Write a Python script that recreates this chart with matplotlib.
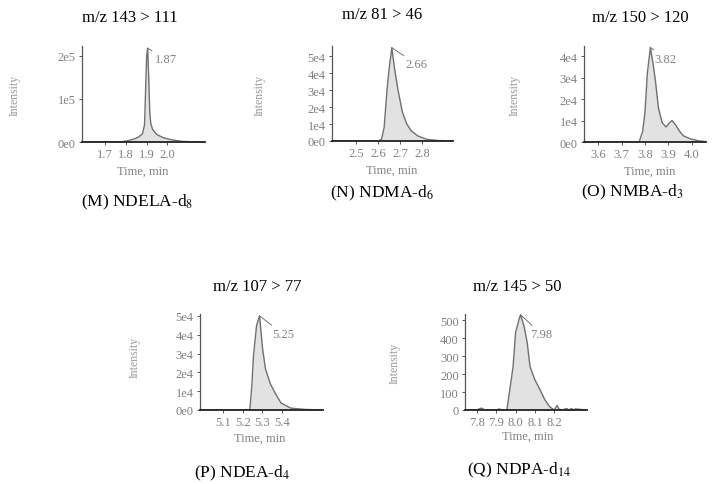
import numpy as np
import matplotlib
matplotlib.use('Agg')
import matplotlib.pyplot as plt

plt.rcParams['font.family'] = ['Liberation Serif', 'DejaVu Serif']
plt.rcParams['mathtext.fontset'] = 'stix'

# M: NDELA-d8
t_m = [1.59, 1.70, 1.78, 1.81, 1.84, 1.86, 1.88, 1.89, 1.895, 1.90, 1.905, 1.91,
       1.915, 1.92, 1.93, 1.95, 1.98, 2.02, 2.07, 2.12, 2.18]
i_m = [0, 0, 500, 3000, 7000, 11000, 19000, 40000, 120000, 200000, 218000, 150000,
       70000, 42000, 28000, 17000, 10000, 5000, 1500, 500, 0]
# N: NDMA-d6
t_n = [2.39, 2.55, 2.60, 2.615, 2.627, 2.64, 2.65, 2.662, 2.675, 2.69, 2.71, 2.73,
       2.75, 2.78, 2.82, 2.87, 2.94]
i_n = [0, 0, 0, 1000, 8000, 30000, 43000, 55000, 42000, 30000, 17000, 10000,
       6000, 3000, 1000, 300, 0]
# O: NMBA-d3
t_o = [3.54, 3.70, 3.775, 3.79, 3.80, 3.81, 3.823, 3.835, 3.845, 3.857, 3.873, 3.89,
       3.905, 3.915, 3.93, 3.95, 3.965, 3.995, 4.03, 4.06]
i_o = [0, 0, 0, 5000, 14000, 32000, 44000, 36000, 28000, 16000, 9000, 7000,
       9000, 10000, 8000, 4600, 2800, 1400, 500, 200]
# P: NDEA-d4
t_p = [4.98, 5.15, 5.235, 5.245, 5.254, 5.27, 5.285, 5.30, 5.315, 5.34, 5.365, 5.395,
       5.445, 5.52, 5.61]
i_p = [0, 0, 0, 12000, 29000, 45000, 50000, 33000, 22000, 14000, 9000, 3700,
       1000, 300, 0]
# Q: NDPA-d14
t_q = [7.738, 7.80, 7.815, 7.826, 7.84, 7.90, 7.915, 7.93, 7.955, 7.97, 7.987, 8.0,
       8.018, 8.026, 8.044, 8.06, 8.075, 8.10, 8.127, 8.152, 8.178, 8.20, 8.215, 8.225,
       8.24, 8.265, 8.275, 8.29, 8.30, 8.31, 8.37]
i_q = [0, 0, 8, 10, 0, 0, 6, 0, 0, 112, 240, 430, 505, 530, 466, 376, 241, 168, 112,
       56, 17, 0, 25, 5, 0, 8, 0, 8, 0, 6, 0]

W, H = 714, 485
fig = plt.figure(figsize=(W / 100, H / 100), dpi=100)

def px(x0, y0, x1, y1):
    return [x0 / W, 1 - y1 / H, (x1 - x0) / W, (y1 - y0) / H]

panels = [
    # t, i, box, xlim, ylim, xticks, yticks, yticklabels, title, name, peak label,
    # title xy, name xy, time xy, intensity xy, label offset
    (t_m, i_m, (82, 47, 205, 143), (1.59, 2.18), (0, 2.23e5), [1.7, 1.8, 1.9, 2.0],
     [0, 1e5, 2e5], ['0e0', '1e5', '2e5'], 'm/z 143 > 111', '(M) NDELA-d$_8$', '1.87',
     (130, 18), (137, 202), (143, 172), (15, 95), (5, -8)),
    (t_n, i_n, (332, 47, 453, 142), (2.39, 2.94), (0, 5.6e4), [2.5, 2.6, 2.7, 2.8],
     [0, 1e4, 2e4, 3e4, 4e4, 5e4], ['0e0', '1e4', '2e4', '3e4', '4e4', '5e4'],
     'm/z 81 > 46', '(N) NDMA-d$_6$', '2.66',
     (382, 15), (382, 193), (392, 171), (260, 95), (10, -12)),
    (t_o, i_o, (584, 47, 706, 143), (3.54, 4.06), (0, 4.47e4), [3.6, 3.7, 3.8, 3.9, 4.0],
     [0, 1e4, 2e4, 3e4, 4e4], ['0e0', '1e4', '2e4', '3e4', '4e4'],
     'm/z 150 > 120', '(O) NMBA-d$_3$', '3.82',
     (640, 18), (632, 192), (650, 172), (515, 95), (3, -8)),
    (t_p, i_p, (200, 315, 323, 411), (4.98, 5.61), (0, 5.1e4), [5.1, 5.2, 5.3, 5.4],
     [0, 1e4, 2e4, 3e4, 4e4, 5e4], ['0e0', '1e4', '2e4', '3e4', '4e4', '5e4'],
     'm/z 107 > 77', '(P) NDEA-d$_4$', '5.25',
     (257, 287), (242, 473), (260, 439), (135, 357), (9, -13)),
    (t_q, i_q, (465, 315, 587, 411), (7.738, 8.37), (0, 534), [7.8, 7.9, 8.0, 8.1, 8.2],
     [0, 100, 200, 300, 400, 500], ['0', '100', '200', '300', '400', '500'],
     'm/z 145 > 50', '(Q) NDPA-d$_{14}$', '7.98',
     (517, 287), (519, 470), (528, 437), (395, 363), (7, -14)),
]

gray = '#808080'
for (t, inten, box, xl, yl, xt, yt, ytl, title, name, pk, txy, nxy, timexy, ixy, off) in panels:
    ax = fig.add_axes(px(*box))
    ax.fill_between(t, inten, color='#e2e2e2', lw=0)
    ax.plot(t, inten, color='#707070', lw=1.0)
    ax.set_xlim(*xl)
    ax.set_ylim(*yl)
    ax.set_xticks(xt)
    ax.set_xticklabels(['%.1f' % v for v in xt])
    ax.set_yticks(yt)
    ax.set_yticklabels(ytl)
    for s in ['top', 'right']:
        ax.spines[s].set_visible(False)
    ax.spines['left'].set_color('#555555')
    ax.spines['left'].set_linewidth(0.9)
    ax.spines['bottom'].set_color('#222222')
    ax.spines['bottom'].set_linewidth(1.3)
    ax.tick_params(labelsize=9, labelcolor=gray, color='#555555', length=2.5, width=0.7, pad=2)
    k = int(np.argmax(inten))
    ax.annotate(pk, xy=(t[k], inten[k]), xytext=off, textcoords='offset points',
                fontsize=9, color=gray, va='center', ha='left',
                arrowprops=dict(arrowstyle='-', color='#707070', lw=0.7, shrinkA=0, shrinkB=0))
    fig.text(txy[0] / W, 1 - txy[1] / H, title, fontsize=12, ha='center', va='center')
    fig.text(nxy[0] / W, 1 - nxy[1] / H, name, fontsize=12.5, ha='center', va='center')
    fig.text(timexy[0] / W, 1 - timexy[1] / H, 'Time, min', fontsize=9, color=gray,
             ha='center', va='center')
    fig.text(ixy[0] / W, 1 - ixy[1] / H, 'Intensity', fontsize=8.5, color='#999999',
             ha='center', va='center', rotation=90)

fig.savefig('out.png', dpi=100)
